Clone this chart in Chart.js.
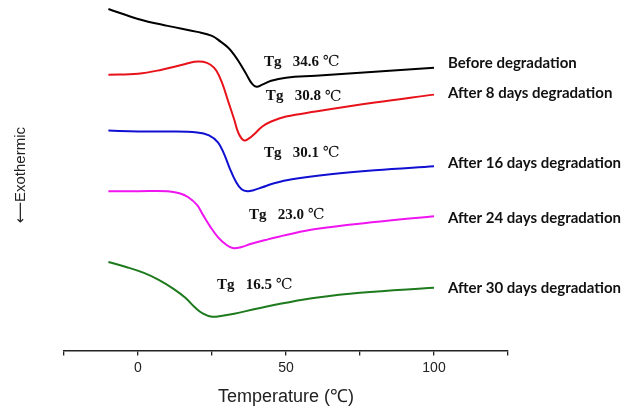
<!DOCTYPE html>
<html>
<head>
<meta charset="utf-8">
<script src="https://cdn.jsdelivr.net/npm/chart.js@4.4.1/dist/chart.umd.min.js"></script>
<style>
  html, body { margin: 0; padding: 0; background: #fff; }
  #wrap { width: 623px; height: 410px; }
</style>
</head>
<body>
<div id="wrap"><canvas id="dsc" width="623" height="410"></canvas></div>
<script>
// DSC curves, heat flow in arbitrary units (curves stacked with offsets)
const seriesNames = ['Before degradation', 'After 8 days degradation', 'After 16 days degradation',
  'After 24 days degradation', 'After 30 days degradation'];
const tgValues = ['34.6', '30.8', '30.1', '23.0', '16.5'];
const seriesColors = ['#000000', '#e8121a', '#1010d2', '#f014f0', '#1d7a1d'];

const tempBefore = [-10, 0, 10, 20, 25, 28, 30.5, 32.5, 34.5, 36.5, 38.5, 40, 42, 45, 50, 60, 80, 100];
const flowBefore = [343, 333, 326, 320, 316, 310, 304, 297, 288, 278, 268, 265, 267, 271, 274, 276, 280, 284];

const temp8d = [-10, 0, 8, 15, 19, 22, 24.5, 26.5, 28.5, 30.5, 32.5, 34, 35.8, 37.5, 39.5, 42, 45, 50, 60, 80, 100];
const flow8d = [277, 278, 282, 287, 290, 290, 287, 281, 268, 250, 232, 218, 211, 213, 218, 225, 230, 235, 240, 249, 257];

const temp16d = [-10, 0, 10, 20, 24, 27, 29, 31, 33, 35, 37, 39, 42, 46, 52, 65, 80, 100];
const flow16d = [221, 220, 220, 219, 216, 209, 198, 183, 170, 162, 160, 161, 164, 168, 172, 177, 181, 185];

const temp24d = [-10, 0, 10, 14, 17, 20, 22, 24.5, 27, 29.5, 32, 35, 38, 43, 50, 60, 80, 100];
const flow24d = [160, 160, 160, 158, 154, 146, 136, 124, 114, 107, 103, 104, 107, 111, 116, 122, 129, 135];

const temp30d = [-10, -4, 2, 7, 12, 16, 19, 22, 25, 28.5, 32.5, 40, 50, 60, 75, 100];
const flow30d = [89, 84, 78, 71, 62, 53, 44, 37, 34, 35, 37, 42, 48, 53, 58, 63];

const xTicks = [-25, 0, 25, 50, 75, 100, 125];
const xTickLabels = ['', '0', '', '50', '', '100', ''];

const temps = [tempBefore, temp8d, temp16d, temp24d, temp30d];
const flows = [flowBefore, flow8d, flow16d, flow24d, flow30d];

// label anchors in data coordinates (temperature, heat flow)
const tgAnchors = [[42.6, 290], [43.2, 255], [42.6, 198], [37.5, 136], [26.7, 66]];
const nameAnchors = [[104.7, 289], [104.7, 258], [104.7, 188], [104.7, 133], [104.7, 63]];

const labelPlugin = {
  id: 'curveLabels',
  afterDatasetsDraw(chart) {
    const { ctx, scales: { x, y } } = chart;
    ctx.save();
    ctx.textBaseline = 'middle';
    ctx.textAlign = 'left';
    ctx.fillStyle = '#111';
    tgValues.forEach((v, i) => {
      const px = x.getPixelForValue(tgAnchors[i][0]);
      const py = y.getPixelForValue(tgAnchors[i][1]);
      const txt = 'Tg   ' + v + ' ';
      ctx.font = 'bold 15px "Liberation Serif", "Times New Roman", serif';
      ctx.fillText(txt, px, py);
      const w = ctx.measureText(txt).width;
      ctx.font = '15px "Liberation Serif", "DejaVu Serif", serif';
      ctx.fillText('\u2103', px + w, py);
    });
    ctx.font = 'bold 15px Lato, "Open Sans", sans-serif';
    seriesNames.forEach((n, i) => {
      const [tx, ty] = nameAnchors[i];
      ctx.fillText(n, x.getPixelForValue(tx), y.getPixelForValue(ty));
    });
    ctx.restore();
  }
};

new Chart(document.getElementById('dsc'), {
  type: 'line',
  data: {
    datasets: seriesNames.map((name, i) => ({
      label: name,
      data: temps[i].map((t, k) => ({ x: t, y: flows[i][k] })),
      borderColor: seriesColors[i],
      borderWidth: 2,
      pointRadius: 0,
      fill: false,
      tension: 0.4
    }))
  },
  options: {
    responsive: false,
    animation: false,
    devicePixelRatio: 1,
    layout: { padding: { top: 0, right: 115, bottom: 0, left: 4 } },
    plugins: { legend: { display: false }, tooltip: { enabled: false } },
    scales: {
      x: {
        type: 'linear',
        min: -25,
        max: 125,
        afterBuildTicks(scale) { scale.ticks = xTicks.map(v => ({ value: v })); },
        grid: { drawOnChartArea: false, drawTicks: true, tickLength: 5, color: '#222', lineWidth: 1.3 },
        border: { display: true, color: '#222', width: 1.5 },
        ticks: {
          padding: 4,
          maxRotation: 0,
          color: '#222',
          font: { family: '"Liberation Sans", Arial, sans-serif', size: 14 },
          callback: (v) => xTickLabels[xTicks.indexOf(v)] ?? ''
        },
        title: {
          display: true,
          text: 'Temperature (\u2103)',
          color: '#222',
          font: { family: '"Liberation Sans", Arial, sans-serif', size: 18 },
          padding: { top: 6, bottom: 2 }
        }
      },
      y: {
        type: 'linear',
        min: 0,
        max: 352,
        grid: { display: false },
        border: { display: false },
        ticks: { display: false },
        title: {
          display: true,
          text: '\u27F5Exothermic',
          color: '#222',
          font: { family: '"Liberation Sans", "DejaVu Sans", Arial, sans-serif', size: 15 },
          padding: { top: 8, bottom: 26 }
        }
      }
    }
  },
  plugins: [labelPlugin]
});
</script>
</body>
</html>
